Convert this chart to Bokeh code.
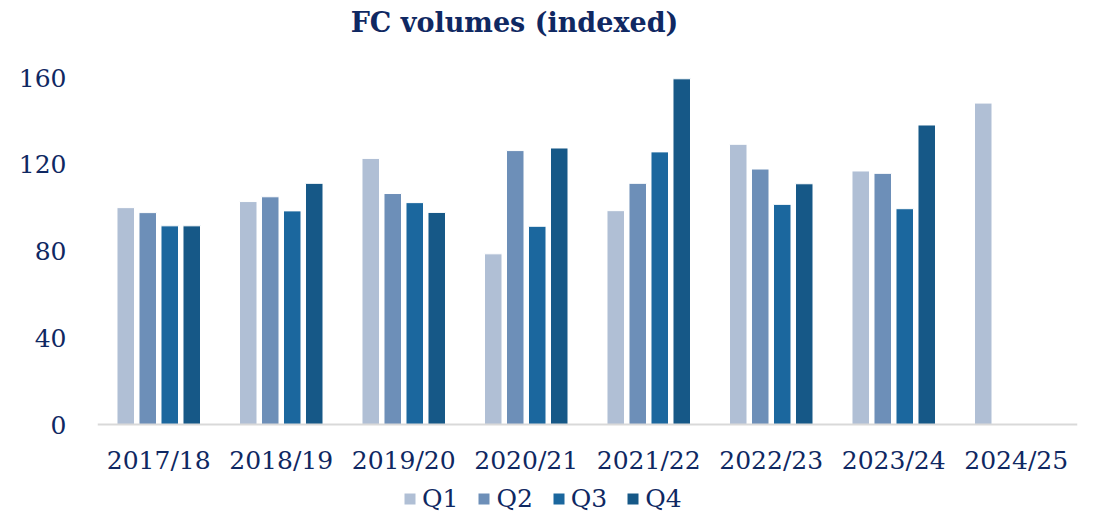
from bokeh.plotting import figure
from bokeh.models import ColumnDataSource, FactorRange, Range1d, FixedTicker, Legend, LegendItem, Label
from bokeh.transform import dodge
from bokeh.embed import file_html
from bokeh.resources import INLINE

years = ["2017/18", "2018/19", "2019/20", "2020/21", "2021/22", "2022/23", "2023/24", "2024/25"]
q1 = [100.0, 102.8, 122.7, 78.7, 98.6, 129.2, 116.9, 148.2]
q2 = [97.7, 105.0, 106.5, 126.3, 111.2, 117.8, 115.8, None]
q3 = [91.6, 98.5, 102.3, 91.4, 125.7, 101.5, 99.5, None]
q4 = [91.6, 111.2, 97.8, 127.5, 159.4, 111.0, 138.1, None]
series_names = ["Q1", "Q2", "Q3", "Q4"]
colors = ["#B0BFD5", "#6D8FB8", "#1B679E", "#165887"]
y_ticks = [0, 40, 80, 120, 160]
title_text = "FC volumes (indexed)"

TEXT = "#0F2862"
FONT = "DejaVu Serif"

# layout: value 0 sits 424 px from the top, 160 sits at 77 px
PX_PER_UNIT = 347 / 160
TOP = 2
FRAME_H = 512
Y_END = (424 - TOP) / PX_PER_UNIT
Y_START = -(TOP + FRAME_H - 424) / PX_PER_UNIT

p = figure(x_range=FactorRange(*years), y_range=Range1d(Y_START, Y_END),
           frame_width=980, frame_height=FRAME_H,
           output_backend="svg", toolbar_location=None,
           min_border_left=97, min_border_right=22, min_border_top=TOP, min_border_bottom=0)

step = 0.1796
offsets = [-1.5 * step, -0.5 * step, 0.5 * step, 1.5 * step]
items = []
for name, vals, col, off in zip(series_names, [q1, q2, q3, q4], colors, offsets):
    xs = [y for y, v in zip(years, vals) if v is not None]
    vs = [v for v in vals if v is not None]
    src = ColumnDataSource(dict(x=xs, top=vs))
    r = p.vbar(x=dodge("x", off, range=p.x_range), top="top", bottom=0, width=0.143,
               source=src, fill_color=col, line_color="white", line_width=1)
    items.append(LegendItem(label=name, renderers=[r]))

p.xgrid.visible = False
p.ygrid.visible = False
p.outline_line_color = None

p.yaxis.ticker = FixedTicker(ticks=y_ticks)
p.yaxis.axis_line_color = None
p.yaxis.major_tick_line_color = None
p.yaxis.minor_tick_line_color = None
p.yaxis.major_tick_out = 0
p.yaxis.major_label_standoff = 31
p.yaxis.major_label_text_font = FONT
p.yaxis.major_label_text_font_size = "25px"
p.yaxis.major_label_text_color = TEXT

p.xaxis.fixed_location = 0
p.xaxis.axis_line_color = "#D9D9D9"
p.xaxis.axis_line_width = 2
p.xaxis.major_tick_line_color = None
p.xaxis.minor_tick_line_color = None
p.xaxis.major_tick_out = 0
p.xaxis.major_label_standoff = 21
p.xaxis.major_label_text_font = FONT
p.xaxis.major_label_text_font_size = "25px"
p.xaxis.major_label_text_color = TEXT

legend = Legend(items=items, orientation="horizontal", location=(305, 1),
                glyph_width=15, glyph_height=15, label_standoff=5, spacing=18,
                padding=0, margin=0, border_line_color=None, background_fill_alpha=0,
                label_text_font=FONT, label_text_font_size="25px", label_text_color=TEXT)
p.add_layout(legend, "center")

title = Label(x=3.404, y=(424 - 22) / PX_PER_UNIT, text=title_text,
              text_font=FONT, text_font_size="27px", text_font_style="bold",
              text_color=TEXT, text_align="center", text_baseline="middle")
p.add_layout(title)

open("out.html", "w").write(file_html(p, INLINE))
